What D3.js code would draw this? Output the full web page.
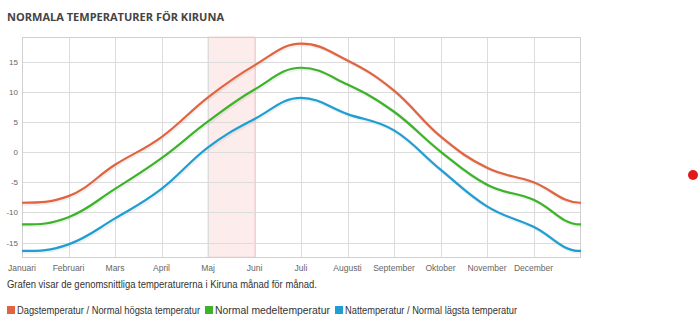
<!DOCTYPE html>
<html>
<head>
<meta charset="utf-8">
<script src="https://cdn.jsdelivr.net/npm/d3@7"></script>
<style>
  body { margin: 0; background: #fff; }
  svg { display: block; }
</style>
</head>
<body>
<div id="chart"></div>
<script>
// month labels (last point repeats January so the curve closes the year)
var months = ["Januari", "Februari", "Mars", "April", "Maj", "Juni", "Juli",
              "Augusti", "September", "Oktober", "November", "December"];
var highTemps = [-8.4, -7.3, -2.1, 2.5, 9.1, 14.4, 18.0, 15.2, 10.2, 2.6, -2.6, -5.0, -8.4];
var meanTemps = [-12.0, -10.8, -6.1, -1.0, 5.1, 10.4, 14.0, 11.2, 6.7, 0.1, -5.4, -7.9, -12.0];
var lowTemps  = [-16.4, -15.3, -11.0, -6.1, 0.8, 5.5, 9.0, 6.3, 3.6, -2.9, -9.0, -12.4, -16.4];
var yTicks = [-15, -10, -5, 0, 5, 10, 15];
var band = [4, 5]; // Maj .. Juni

var seriesNames = ["Dagstemperatur / Normal högsta temperatur",
                   "Normal medeltemperatur",
                   "Nattemperatur / Normal lägsta temperatur"];
var colors = ["#e0643f", "#3db32a", "#1e9ed2"];

var series = [highTemps, meanTemps, lowTemps];

var W = 700, H = 322;
var margin = {top: 37, right: 120, bottom: 65, left: 22},
    width = W - margin.left - margin.right,
    height = H - margin.top - margin.bottom;

var root = d3.select("#chart").append("svg")
    .attr("width", W)
    .attr("height", H);

root.append("defs").append("clipPath")
    .attr("id", "plot-clip")
    .append("rect")
    .attr("x", 0).attr("y", -5)
    .attr("width", width + 1).attr("height", height + 10);

root.append("text")
    .attr("x", 7).attr("y", 21)
    .attr("textLength", 217)
    .attr("lengthAdjust", "spacingAndGlyphs")
    .style("font-family", "'Open Sans', sans-serif")
    .style("font-weight", "bold")
    .style("font-size", "11px")
    .style("fill", "#444")
    .text("NORMALA TEMPERATURER FÖR KIRUNA");

var svg = root.append("g")
    .attr("transform", "translate(" + margin.left + "," + margin.top + ")");

var x = d3.scaleLinear().domain([0, 12]).range([0, width]);
var y = d3.scaleLinear().domain([-17.4, 19.1]).range([height, 0]);

// plot band
svg.append("rect")
    .attr("x", x(band[0])).attr("y", 0)
    .attr("width", x(band[1]) - x(band[0]))
    .attr("height", height)
    .style("fill", "#fcecec")
    .style("stroke", "#f5dada")
    .style("stroke-width", 1);

// grid
svg.append("g").selectAll("line")
    .data(yTicks).enter().append("line")
    .attr("x1", 0).attr("x2", width)
    .attr("y1", function(d) { return Math.round(y(d)) + 0.5; })
    .attr("y2", function(d) { return Math.round(y(d)) + 0.5; })
    .style("stroke", "#dcdcdc");

svg.append("g").selectAll("line")
    .data(d3.range(0, 13)).enter().append("line")
    .attr("y1", 0).attr("y2", height)
    .attr("x1", function(d) { return Math.round(x(d)) + 0.5; })
    .attr("x2", function(d) { return Math.round(x(d)) + 0.5; })
    .style("stroke", "#dcdcdc");

svg.append("rect")
    .attr("x", 0.5).attr("y", 0.5)
    .attr("width", width).attr("height", height)
    .style("fill", "none")
    .style("stroke", "#d0d0d0");

// axes labels
svg.append("g").selectAll("text")
    .data(yTicks).enter().append("text")
    .attr("x", -4)
    .attr("y", function(d) { return y(d) + 3; })
    .attr("text-anchor", "end")
    .style("font-family", "'Liberation Sans', Arial, sans-serif")
    .style("font-size", "8px")
    .style("fill", "#666")
    .text(function(d) { return d; });

svg.append("g").selectAll("text")
    .data(months).enter().append("text")
    .attr("x", function(d, i) { return x(i); })
    .attr("y", height + 14)
    .attr("text-anchor", "middle")
    .style("font-family", "'Liberation Sans', Arial, sans-serif")
    .style("font-size", "8.5px")
    .style("fill", "#666")
    .text(function(d) { return d; });

// spline like Highcharts; the year wraps, so December/February are added
// as neighbours outside the plot and the result is clipped
function splinePath(vals) {
  var n = vals.length;
  var ext = [vals[n - 2]].concat(vals, [vals[1]]);
  var pts = ext.map(function(v, i) { return [x(i - 1), y(v)]; });
  var s = 1.5, den = s + 1;
  var left = [], right = [];
  pts.forEach(function(p, i) {
    if (i === 0 || i === pts.length - 1) {
      left[i] = p; right[i] = p; return;
    }
    var a = pts[i - 1], b = pts[i + 1];
    var lx = (s * p[0] + a[0]) / den, ly = (s * p[1] + a[1]) / den;
    var rx = (s * p[0] + b[0]) / den, ry = (s * p[1] + b[1]) / den;
    var corr = ((ry - ly) * (rx - p[0])) / (rx - lx) + p[1] - ry;
    ly += corr; ry += corr;
    if (ly > Math.max(a[1], p[1])) { ly = Math.max(a[1], p[1]); ry = 2 * p[1] - ly; }
    else if (ly < Math.min(a[1], p[1])) { ly = Math.min(a[1], p[1]); ry = 2 * p[1] - ly; }
    if (ry > Math.max(b[1], p[1])) { ry = Math.max(b[1], p[1]); ly = 2 * p[1] - ry; }
    else if (ry < Math.min(b[1], p[1])) { ry = Math.min(b[1], p[1]); ly = 2 * p[1] - ry; }
    left[i] = [lx, ly]; right[i] = [rx, ry];
  });
  var path = d3.path();
  path.moveTo(pts[0][0], pts[0][1]);
  for (var i = 1; i < pts.length; i++) {
    path.bezierCurveTo(right[i - 1][0], right[i - 1][1], left[i][0], left[i][1], pts[i][0], pts[i][1]);
  }
  return path.toString();
}

var lines = svg.append("g")
    .attr("class", "lines")
    .attr("clip-path", "url(#plot-clip)");

series.forEach(function(s, k) {
  lines.append("path")
      .attr("d", splinePath(s))
      .attr("transform", "translate(1,1)")
      .style("fill", "none")
      .style("stroke", "#000")
      .style("stroke-opacity", 0.06)
      .style("stroke-width", 4);
  lines.append("path")
      .attr("d", splinePath(s))
      .style("fill", "none")
      .style("stroke", colors[k])
      .style("stroke-width", 2.2);
});

// caption
root.append("text")
    .attr("x", 7).attr("y", 288)
    .attr("textLength", 310)
    .attr("lengthAdjust", "spacingAndGlyphs")
    .style("font-family", "'Liberation Sans', Arial, sans-serif")
    .style("font-size", "10px")
    .style("fill", "#333")
    .text("Grafen visar de genomsnittliga temperaturerna i Kiruna månad för månad.");

// legend
var legendW = [183, 115, 172];
var legend = root.append("g").attr("transform", "translate(7,306)");
var lx = 0;
seriesNames.forEach(function(name, k) {
  legend.append("rect")
      .attr("x", lx).attr("y", 0)
      .attr("width", 8).attr("height", 8)
      .style("fill", colors[k]);
  legend.append("text")
      .attr("x", lx + 10).attr("y", 8)
      .attr("textLength", legendW[k])
      .attr("lengthAdjust", "spacingAndGlyphs")
      .style("font-family", "'Liberation Sans', Arial, sans-serif")
      .style("font-size", "10px")
      .style("fill", "#333")
      .text(name);
  lx += 10 + legendW[k] + 5;
});

// red dot at right
root.append("circle")
    .attr("cx", 693).attr("cy", 175)
    .attr("r", 5)
    .style("fill", "#e3191a");
</script>
</body>
</html>
